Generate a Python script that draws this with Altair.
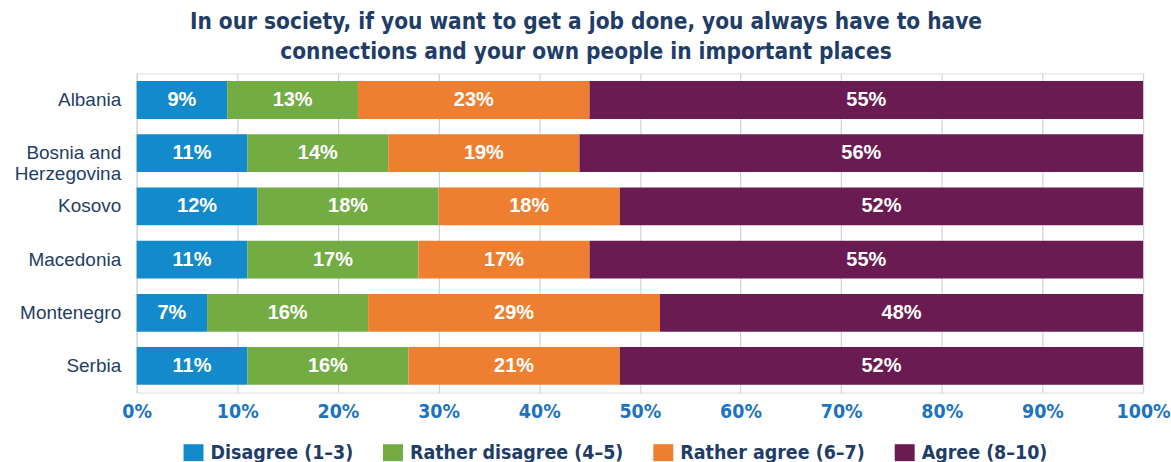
import altair as alt
import pandas as pd

countries = ["Albania", "Bosnia and Herzegovina", "Kosovo", "Macedonia", "Montenegro", "Serbia"]
categories = ["Disagree (1–3)", "Rather disagree (4–5)", "Rather agree (6–7)", "Agree (8–10)"]
colors = ["#138ACB", "#72AC43", "#EE7F30", "#6A1B51"]
disagree = [9, 11, 12, 11, 7, 11]
rather_disagree = [13, 14, 18, 17, 16, 16]
rather_agree = [23, 19, 18, 17, 29, 21]
agree = [55, 56, 52, 55, 48, 52]

series = [disagree, rather_disagree, rather_agree, agree]
rows = []
for ci, c in enumerate(countries):
    for k, cat in enumerate(categories):
        rows.append({"country": c, "category": cat, "order": k, "value": series[k][ci]})
df = pd.DataFrame(rows)

navy = "#1F3D66"
axis_blue = "#1E73BE"
narrow = "DejaVu Sans Condensed"

base = alt.Chart(df).transform_stack(
    stack="value", groupby=["country"], as_=["start", "end"],
    sort=[alt.SortField("order", order="ascending")]
).transform_calculate(
    mid="(datum.start + datum.end) / 2",
    s0="datum.start / 100",
    s1="datum.end / 100",
    m="datum.mid / 100",
    label="datum.value + '%'"
)

y_enc = alt.Y(
    "country:N", sort=countries, title=None,
    scale=alt.Scale(paddingInner=0.29, paddingOuter=0.145),
    axis=alt.Axis(
        ticks=False, domain=False, labelPadding=16, labelFontSize=19,
        labelFont="Liberation Sans", labelColor=navy, labelLineHeight=21,
        labelExpr="datum.value == 'Bosnia and Herzegovina' ? ['Bosnia and', 'Herzegovina'] : datum.label",
    ),
)

bars = base.mark_bar().encode(
    x=alt.X(
        "s0:Q", title=None,
        scale=alt.Scale(domain=[0, 1], nice=False),
        axis=alt.Axis(
            format=".0%", values=[i / 10 for i in range(11)],
            grid=True, gridColor="#C9D4DF", gridWidth=1.2, domain=False,
            ticks=False, labelPadding=10, labelFontSize=19.5, labelFont=narrow,
            labelFontWeight="bold", labelColor=axis_blue,
            labelFlush=False, labelOverlap=False,
        ),
    ),
    x2="s1:Q",
    y=y_enc,
    color=alt.Color(
        "category:N", sort=categories,
        scale=alt.Scale(domain=categories, range=colors),
        legend=alt.Legend(
            title=None, orient="none", direction="horizontal",
            legendX=47, legendY=370,
            symbolType="M-1,-0.85H1V0.85H-1Z", symbolSize=400, symbolStrokeWidth=0,
            labelFontSize=19.5, labelFont=narrow, labelFontWeight="bold",
            labelColor=navy, columnPadding=29, labelOffset=7,
            labelLimit=400,
        ),
    ),
    order=alt.Order("order:Q"),
)

text = base.mark_text(
    color="white", fontSize=20, fontWeight="bold", font="Liberation Sans"
).encode(
    x=alt.X("m:Q"),
    y=alt.Y("country:N", sort=countries),
    text="label:N",
)

chart = (bars + text).properties(
    width=1009,
    height=320,
    padding={"left": 14, "top": 10, "right": 0, "bottom": 0},
    title=alt.TitleParams(
        ["In our society, if you want to get a job done, you always have to have",
         "connections and your own people in important places"],
        font=narrow, fontSize=22.5, fontWeight="bold", color=navy,
        lineHeight=30, anchor="middle", offset=10, dx=-54,
    ),
).configure_view(stroke=None).configure(background="white")

chart.save("out.html", embed_options={"renderer": "svg", "actions": False})
